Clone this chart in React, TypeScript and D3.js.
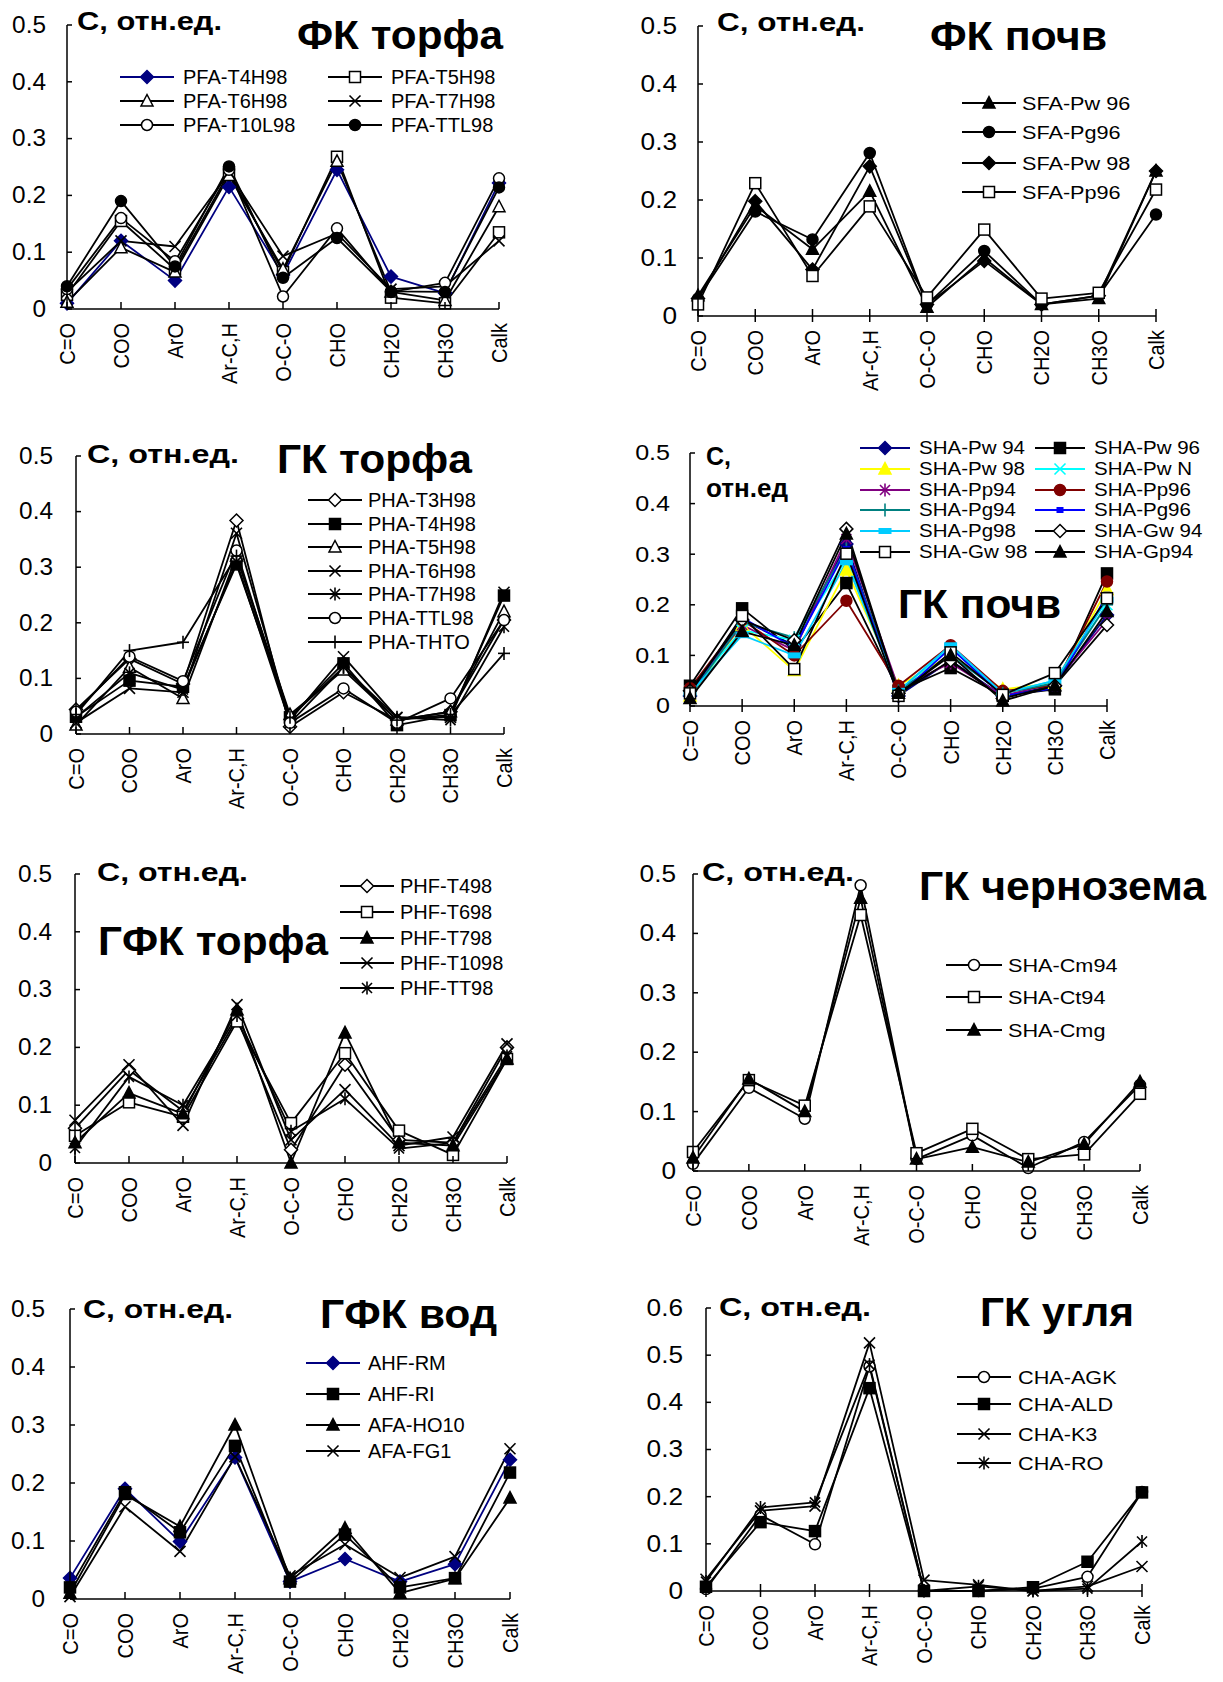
import React from "react";
import * as d3 from "d3";

// ---------- shared data ----------
const categories = ["C=O", "COO", "ArO", "Ar-C,H", "O-C-O", "CHO", "CH2O", "CH3O", "Calk"];
const ticks05 = [0, 0.1, 0.2, 0.3, 0.4, 0.5];
const ticks06 = [0, 0.1, 0.2, 0.3, 0.4, 0.5, 0.6];
const yLabelText = "С, отн.ед.";

// Panel 1: ФК торфа
const PFA_T4H98 = [0.01, 0.12, 0.05, 0.215, 0.06, 0.245, 0.057, 0.028, 0.222];
const PFA_T5H98 = [0.025, 0.155, 0.07, 0.24, 0.065, 0.268, 0.02, 0.01, 0.135];
const PFA_T6H98 = [0.012, 0.108, 0.065, 0.235, 0.07, 0.26, 0.03, 0.015, 0.18];
const PFA_T7H98 = [0.03, 0.12, 0.11, 0.24, 0.093, 0.133, 0.035, 0.04, 0.12];
const PFA_T10L98 = [0.035, 0.16, 0.084, 0.245, 0.022, 0.142, 0.03, 0.046, 0.23];
const PFA_TTL98 = [0.04, 0.19, 0.075, 0.251, 0.055, 0.125, 0.031, 0.03, 0.214];

// Panel 2: ФК почв
const SFA_Pw96 = [0.035, 0.19, 0.115, 0.215, 0.015, 0.1, 0.02, 0.03, 0.25];
const SFA_Pg96 = [0.03, 0.18, 0.132, 0.281, 0.02, 0.112, 0.02, 0.035, 0.175];
const SFA_Pw98 = [0.03, 0.198, 0.08, 0.258, 0.02, 0.095, 0.02, 0.035, 0.25];
const SFA_Pp96 = [0.02, 0.229, 0.069, 0.189, 0.032, 0.149, 0.03, 0.04, 0.218];

// Panel 3: ГК торфа
const PHA_T3H98 = [0.044, 0.135, 0.09, 0.384, 0.013, 0.075, 0.025, 0.04, 0.205];
const PHA_T4H98 = [0.031, 0.096, 0.085, 0.305, 0.03, 0.127, 0.016, 0.034, 0.249];
const PHA_T5H98 = [0.016, 0.12, 0.064, 0.32, 0.035, 0.115, 0.025, 0.04, 0.22];
const PHA_T6H98 = [0.02, 0.082, 0.075, 0.361, 0.025, 0.139, 0.03, 0.03, 0.255];
const PHA_T7H98 = [0.03, 0.11, 0.08, 0.31, 0.02, 0.12, 0.03, 0.025, 0.193];
const PHA_TTL98 = [0.04, 0.139, 0.095, 0.33, 0.02, 0.082, 0.02, 0.064, 0.205];
const PHA_THTO = [0.035, 0.15, 0.165, 0.32, 0.03, 0.12, 0.025, 0.035, 0.145];

// Panel 4: ГК почв
const SHA_Pw94 = [0.02, 0.17, 0.12, 0.32, 0.02, 0.09, 0.02, 0.04, 0.18];
const SHA_Pw96 = [0.04, 0.193, 0.11, 0.243, 0.03, 0.075, 0.02, 0.033, 0.262];
const SHA_Pw98 = [0.02, 0.16, 0.07, 0.269, 0.04, 0.1, 0.033, 0.045, 0.23];
const SHA_PwN = [0.03, 0.15, 0.13, 0.29, 0.03, 0.115, 0.025, 0.05, 0.2];
const SHA_Pp94 = [0.03, 0.16, 0.11, 0.33, 0.035, 0.085, 0.02, 0.045, 0.17];
const SHA_Pp96 = [0.035, 0.17, 0.1, 0.208, 0.04, 0.12, 0.03, 0.04, 0.246];
const SHA_Pg94 = [0.02, 0.165, 0.135, 0.31, 0.03, 0.1, 0.025, 0.045, 0.2];
const SHA_Pg96 = [0.025, 0.175, 0.115, 0.31, 0.02, 0.115, 0.02, 0.035, 0.22];
const SHA_Pg98 = [0.025, 0.14, 0.1, 0.284, 0.03, 0.12, 0.025, 0.05, 0.21];
const SHA_Gw94 = [0.03, 0.17, 0.13, 0.35, 0.025, 0.09, 0.015, 0.04, 0.16];
const SHA_Gw98 = [0.025, 0.178, 0.073, 0.301, 0.02, 0.106, 0.022, 0.065, 0.213];
const SHA_Gp94 = [0.015, 0.147, 0.12, 0.34, 0.025, 0.1, 0.01, 0.04, 0.187];

// Panel 5: ГФК торфа
const PHF_T498 = [0.06, 0.161, 0.09, 0.25, 0.023, 0.17, 0.04, 0.035, 0.2];
const PHF_T698 = [0.047, 0.105, 0.08, 0.245, 0.069, 0.19, 0.056, 0.014, 0.18];
const PHF_T798 = [0.035, 0.121, 0.085, 0.265, 0.0, 0.225, 0.035, 0.03, 0.18];
const PHF_T1098 = [0.074, 0.17, 0.065, 0.274, 0.04, 0.127, 0.03, 0.045, 0.206];
const PHF_TT98 = [0.026, 0.149, 0.1, 0.255, 0.055, 0.111, 0.025, 0.035, 0.185];

// Panel 6: ГК чернозема
const SHA_Cm94 = [0.012, 0.14, 0.088, 0.481, 0.02, 0.06, 0.005, 0.049, 0.145];
const SHA_Ct94 = [0.032, 0.153, 0.11, 0.431, 0.03, 0.071, 0.02, 0.028, 0.13];
const SHA_Cmg = [0.022, 0.155, 0.1, 0.459, 0.02, 0.04, 0.015, 0.045, 0.15];

// Panel 7: ГФК вод
const AHF_RM = [0.036, 0.19, 0.099, 0.244, 0.03, 0.069, 0.03, 0.06, 0.24];
const AHF_RI = [0.02, 0.184, 0.115, 0.264, 0.03, 0.111, 0.02, 0.036, 0.218];
const AFA_HO10 = [0.01, 0.18, 0.125, 0.3, 0.035, 0.122, 0.01, 0.035, 0.174];
const AFA_FG1 = [0.004, 0.159, 0.082, 0.245, 0.04, 0.094, 0.037, 0.073, 0.259];

// Panel 8: ГК угля
const CHA_AGK = [0.004, 0.161, 0.099, 0.476, 0.0, 0.0, 0.005, 0.03, 0.21];
const CHA_ALD = [0.009, 0.146, 0.127, 0.43, 0.0, 0.0, 0.008, 0.062, 0.209];
const CHA_K3 = [0.025, 0.17, 0.18, 0.526, 0.023, 0.013, 0.0, 0.01, 0.052];
const CHA_RO = [0.02, 0.177, 0.188, 0.48, 0.0, 0.01, 0.0, 0.005, 0.105];

// ---------- styles / layout ----------
const FONT = "Arial, 'Liberation Sans', sans-serif";
const NAVY = "#000080";

type S = { name: string; values: number[]; shape: string; filled: boolean; color: string };

const panels: any[] = [
  {
    x0: 67, x1: 499, yBase: 309, yTop: 25, yMax: 0.5, ticks: ticks05, labelX: 46, tickFont: 23, tickSx: 1.06, legSx: 1, cross: false,
    title: "ФК торфа", titleX: 297, titleY: 49, titleW: 206,
    yl: [{ t: yLabelText, x: 77, y: 30, w: 145 }],
    legend: { cx: [147, 355], rows: [77, 101, 125], ncol: 2, half: 27, off: 36, font: 20 },
    series: [
      { name: "PFA-T4H98", values: PFA_T4H98, shape: "diamond", filled: true, color: NAVY },
      { name: "PFA-T5H98", values: PFA_T5H98, shape: "square", filled: false, color: "#000" },
      { name: "PFA-T6H98", values: PFA_T6H98, shape: "triangle", filled: false, color: "#000" },
      { name: "PFA-T7H98", values: PFA_T7H98, shape: "x", filled: false, color: "#000" },
      { name: "PFA-T10L98", values: PFA_T10L98, shape: "circle", filled: false, color: "#000" },
      { name: "PFA-TTL98", values: PFA_TTL98, shape: "circle", filled: true, color: "#000" },
    ],
  },
  {
    x0: 698, x1: 1156, yBase: 316, yTop: 26, yMax: 0.5, ticks: ticks05, labelX: 677, tickFont: 23, tickSx: 1.14, legSx: 1.14, cross: true,
    title: "ФК почв", titleX: 930, titleY: 50, titleW: 177,
    yl: [{ t: yLabelText, x: 717, y: 31, w: 148 }],
    legend: { cx: [989], rows: [103, 132, 163, 192], ncol: 1, half: 27, off: 33, font: 19 },
    series: [
      { name: "SFA-Pw 96", values: SFA_Pw96, shape: "triangle", filled: true, color: "#000" },
      { name: "SFA-Pg96", values: SFA_Pg96, shape: "circle", filled: true, color: "#000" },
      { name: "SFA-Pw 98", values: SFA_Pw98, shape: "diamond", filled: true, color: "#000" },
      { name: "SFA-Pp96", values: SFA_Pp96, shape: "square", filled: false, color: "#000" },
    ],
  },
  {
    x0: 76, x1: 504, yBase: 734, yTop: 456, yMax: 0.5, ticks: ticks05, labelX: 53, tickFont: 23, tickSx: 1.06, legSx: 1, cross: false,
    title: "ГК торфа", titleX: 277, titleY: 473, titleW: 195,
    yl: [{ t: yLabelText, x: 87, y: 463, w: 152 }],
    legend: { cx: [335], rows: [500, 524, 547, 571, 594, 618, 642], ncol: 1, half: 27, off: 33, font: 20 },
    series: [
      { name: "PHA-T3H98", values: PHA_T3H98, shape: "diamond", filled: false, color: "#000" },
      { name: "PHA-T4H98", values: PHA_T4H98, shape: "square", filled: true, color: "#000" },
      { name: "PHA-T5H98", values: PHA_T5H98, shape: "triangle", filled: false, color: "#000" },
      { name: "PHA-T6H98", values: PHA_T6H98, shape: "x", filled: false, color: "#000" },
      { name: "PHA-T7H98", values: PHA_T7H98, shape: "asterisk", filled: false, color: "#000" },
      { name: "PHA-TTL98", values: PHA_TTL98, shape: "circle", filled: false, color: "#000" },
      { name: "PHA-THTO", values: PHA_THTO, shape: "plus", filled: false, color: "#000" },
    ],
  },
  {
    x0: 690, x1: 1107, yBase: 706, yTop: 453, yMax: 0.5, ticks: ticks05, labelX: 670, tickFont: 22, tickSx: 1.14, legSx: 1.14, cross: true,
    title: "ГК почв", titleX: 898, titleY: 618, titleW: 163,
    yl: [{ t: "С,", x: 706, y: 465, w: 0 }, { t: "отн.ед", x: 706, y: 497, w: 82 }],
    legend: { cx: [885, 1060], rows: [448, 469, 490, 510, 531, 552], ncol: 2, half: 25, off: 34, font: 18 },
    series: [
      { name: "SHA-Pw 94", values: SHA_Pw94, shape: "diamond", filled: true, color: NAVY },
      { name: "SHA-Pw 96", values: SHA_Pw96, shape: "square", filled: true, color: "#000" },
      { name: "SHA-Pw 98", values: SHA_Pw98, shape: "triangle", filled: true, color: "#FFFF00" },
      { name: "SHA-Pw N", values: SHA_PwN, shape: "x", filled: false, color: "#00FFFF" },
      { name: "SHA-Pp94", values: SHA_Pp94, shape: "asterisk", filled: false, color: "#800080" },
      { name: "SHA-Pp96", values: SHA_Pp96, shape: "circle", filled: true, color: "#800000" },
      { name: "SHA-Pg94", values: SHA_Pg94, shape: "plus", filled: false, color: "#008080" },
      { name: "SHA-Pg96", values: SHA_Pg96, shape: "smallsq", filled: true, color: "#0000FF" },
      { name: "SHA-Pg98", values: SHA_Pg98, shape: "dash", filled: true, color: "#00CCFF" },
      { name: "SHA-Gw 94", values: SHA_Gw94, shape: "diamond", filled: false, color: "#000" },
      { name: "SHA-Gw 98", values: SHA_Gw98, shape: "square", filled: false, color: "#000" },
      { name: "SHA-Gp94", values: SHA_Gp94, shape: "triangle", filled: true, color: "#000" },
    ],
  },
  {
    x0: 75, x1: 507, yBase: 1163, yTop: 874, yMax: 0.5, ticks: ticks05, labelX: 52, tickFont: 23, tickSx: 1.06, legSx: 1, cross: false,
    title: "ГФК торфа", titleX: 98, titleY: 955, titleW: 230,
    yl: [{ t: yLabelText, x: 97, y: 881, w: 151 }],
    legend: { cx: [367], rows: [886, 912, 938, 963, 988], ncol: 1, half: 27, off: 33, font: 20 },
    series: [
      { name: "PHF-T498", values: PHF_T498, shape: "diamond", filled: false, color: "#000" },
      { name: "PHF-T698", values: PHF_T698, shape: "square", filled: false, color: "#000" },
      { name: "PHF-T798", values: PHF_T798, shape: "triangle", filled: true, color: "#000" },
      { name: "PHF-T1098", values: PHF_T1098, shape: "x", filled: false, color: "#000" },
      { name: "PHF-TT98", values: PHF_TT98, shape: "asterisk", filled: false, color: "#000" },
    ],
  },
  {
    x0: 693, x1: 1140, yBase: 1171, yTop: 874, yMax: 0.5, ticks: ticks05, labelX: 676, tickFont: 23, tickSx: 1.14, legSx: 1.14, cross: false,
    title: "ГК чернозема", titleX: 919, titleY: 900, titleW: 287,
    yl: [{ t: yLabelText, x: 702, y: 881, w: 152 }],
    legend: { cx: [974], rows: [965, 997, 1030], ncol: 1, half: 28, off: 34, font: 19 },
    series: [
      { name: "SHA-Cm94", values: SHA_Cm94, shape: "circle", filled: false, color: "#000" },
      { name: "SHA-Ct94", values: SHA_Ct94, shape: "square", filled: false, color: "#000" },
      { name: "SHA-Cmg", values: SHA_Cmg, shape: "triangle", filled: true, color: "#000" },
    ],
  },
  {
    x0: 70, x1: 510, yBase: 1599, yTop: 1309, yMax: 0.5, ticks: ticks05, labelX: 45, tickFont: 23, tickSx: 1.06, legSx: 1, cross: false,
    title: "ГФК вод", titleX: 320, titleY: 1328, titleW: 177,
    yl: [{ t: yLabelText, x: 83, y: 1318, w: 150 }],
    legend: { cx: [333], rows: [1363, 1394, 1425, 1451], ncol: 1, half: 27, off: 35, font: 20 },
    series: [
      { name: "AHF-RM", values: AHF_RM, shape: "diamond", filled: true, color: NAVY },
      { name: "AHF-RI", values: AHF_RI, shape: "square", filled: true, color: "#000" },
      { name: "AFA-HO10", values: AFA_HO10, shape: "triangle", filled: true, color: "#000" },
      { name: "AFA-FG1", values: AFA_FG1, shape: "x", filled: false, color: "#000" },
    ],
  },
  {
    x0: 706, x1: 1142, yBase: 1591, yTop: 1308, yMax: 0.6, ticks: ticks06, labelX: 683, tickFont: 23, tickSx: 1.14, legSx: 1.14, cross: true,
    title: "ГК угля", titleX: 980, titleY: 1326, titleW: 154,
    yl: [{ t: yLabelText, x: 719, y: 1316, w: 152 }],
    legend: { cx: [984], rows: [1377, 1404, 1434, 1463], ncol: 1, half: 27, off: 34, font: 19 },
    series: [
      { name: "CHA-AGK", values: CHA_AGK, shape: "circle", filled: false, color: "#000" },
      { name: "CHA-ALD", values: CHA_ALD, shape: "square", filled: true, color: "#000" },
      { name: "CHA-K3", values: CHA_K3, shape: "x", filled: false, color: "#000" },
      { name: "CHA-RO", values: CHA_RO, shape: "asterisk", filled: false, color: "#000" },
    ],
  },
];

function Marker({ shape, filled, color, x, y }: { shape: string; filled: boolean; color: string; x: number; y: number }) {
  const s = 5.5;
  const fill = filled ? color : "#fff";
  const sw = 1.5;
  switch (shape) {
    case "diamond":
      return <polygon points={`${x},${y - 6.5} ${x + 6.5},${y} ${x},${y + 6.5} ${x - 6.5},${y}`} fill={fill} stroke={color} strokeWidth={sw} />;
    case "square":
      return <rect x={x - s} y={y - s} width={2 * s} height={2 * s} fill={fill} stroke={color} strokeWidth={sw} />;
    case "triangle":
      return <polygon points={`${x},${y - 6.5} ${x + 6},${y + 5} ${x - 6},${y + 5}`} fill={fill} stroke={color} strokeWidth={sw} />;
    case "circle":
      return <circle cx={x} cy={y} r={s} fill={fill} stroke={color} strokeWidth={sw} />;
    case "x":
      return (
        <g stroke={color} strokeWidth={1.6}>
          <line x1={x - 5.5} y1={y - 5.5} x2={x + 5.5} y2={y + 5.5} />
          <line x1={x - 5.5} y1={y + 5.5} x2={x + 5.5} y2={y - 5.5} />
        </g>
      );
    case "asterisk":
      return (
        <g stroke={color} strokeWidth={1.6}>
          <line x1={x - 5} y1={y - 5} x2={x + 5} y2={y + 5} />
          <line x1={x - 5} y1={y + 5} x2={x + 5} y2={y - 5} />
          <line x1={x} y1={y - 6.5} x2={x} y2={y + 6.5} />
        </g>
      );
    case "plus":
      return (
        <g stroke={color} strokeWidth={1.6}>
          <line x1={x} y1={y - 6.5} x2={x} y2={y + 6.5} />
          <line x1={x - 6} y1={y} x2={x + 6} y2={y} />
        </g>
      );
    case "smallsq":
      return <rect x={x - 3.5} y={y - 3} width={7} height={6} fill={color} />;
    case "dash":
      return <rect x={x - 6.5} y={y - 3} width={13} height={6} fill={color} />;
    default:
      return null;
  }
}

function Panel({ cfg }: { cfg: any }) {
  const x = d3.scalePoint<string>().domain(categories).range([cfg.x0, cfg.x1]);
  const y = d3.scaleLinear().domain([0, cfg.yMax]).range([cfg.yBase, cfg.yTop]);
  const line = d3
    .line<number>()
    .x((_, i) => x(categories[i]) as number)
    .y((d) => y(d));
  const lg = cfg.legend;
  return (
    <g>
      {cfg.series.map((s: S) => (
        <path key={s.name} d={line(s.values) || ""} fill="none" stroke={s.color} strokeWidth={1.8} strokeLinejoin="round" />
      ))}
      {cfg.series.map((s: S) => (
        <g key={s.name + "m"}>
          {s.values.map((v, i) => (
            <Marker key={i} shape={s.shape} filled={s.filled} color={s.color} x={x(categories[i]) as number} y={y(v)} />
          ))}
        </g>
      ))}
      <line x1={cfg.x0} y1={cfg.yBase} x2={cfg.x0} y2={cfg.yTop} stroke="#000" strokeWidth={1.5} />
      <line x1={cfg.x0} y1={cfg.yBase} x2={cfg.x1} y2={cfg.yBase} stroke="#000" strokeWidth={1.5} />
      {cfg.ticks.map((t: number) => (
        <g key={t}>
          <line x1={cfg.x0} x2={cfg.x0 + 5} y1={y(t)} y2={y(t)} stroke="#000" strokeWidth={1.5} />
          <text
            transform={`translate(${cfg.labelX},${y(t)}) scale(${cfg.tickSx},1)`}
            textAnchor="end"
            dominantBaseline="central"
            fontSize={cfg.tickFont}
            fontFamily={FONT}
          >
            {t === 0 ? "0" : d3.format(".1f")(t)}
          </text>
        </g>
      ))}
      {categories.map((c) => (
        <g key={c}>
          <line x1={x(c)} x2={x(c)} y1={cfg.yBase - 7} y2={cfg.yBase + (cfg.cross ? 6 : 0)} stroke="#000" strokeWidth={1.5} />
          <text
            transform={`translate(${x(c)},${cfg.yBase + 14}) scale(1.12,1) rotate(-90)`}
            textAnchor="end"
            dominantBaseline="central"
            fontSize={20}
            fontFamily={FONT}
          >
            {c}
          </text>
        </g>
      ))}
      {cfg.yl.map((l: any, i: number) => (
        <text
          key={i}
          x={l.x}
          y={l.y}
          fontSize={25}
          fontWeight="bold"
          fontFamily={FONT}
          {...(l.w ? { textLength: l.w, lengthAdjust: "spacingAndGlyphs" } : {})}
        >
          {l.t}
        </text>
      ))}
      <text x={cfg.titleX} y={cfg.titleY} fontSize={40} fontWeight="bold" fontFamily={FONT} textLength={cfg.titleW} lengthAdjust="spacingAndGlyphs">
        {cfg.title}
      </text>
      {cfg.series.map((s: S, i: number) => {
        const col = i % lg.ncol;
        const row = Math.floor(i / lg.ncol);
        const cx = lg.cx[col];
        const cy = lg.rows[row];
        return (
          <g key={s.name + "lg"}>
            <line x1={cx - lg.half} x2={cx + lg.half} y1={cy} y2={cy} stroke={s.color} strokeWidth={1.8} />
            <Marker shape={s.shape} filled={s.filled} color={s.color} x={cx} y={cy} />
            <text
              transform={`translate(${cx + lg.off},${cy}) scale(${cfg.legSx},1)`}
              dominantBaseline="central"
              fontSize={lg.font}
              fontFamily={FONT}
            >
              {s.name}
            </text>
          </g>
        );
      })}
    </g>
  );
}

export default function App() {
  return (
    <svg
      width={1223}
      height={1682}
      viewBox="0 0 1223 1682"
      style={{ position: "absolute", left: 0, top: 0, background: "#fff" }}
    >
      <rect x={0} y={0} width={1223} height={1682} fill="#fff" />
      {panels.map((p, i) => (
        <Panel key={i} cfg={p} />
      ))}
    </svg>
  );
}
